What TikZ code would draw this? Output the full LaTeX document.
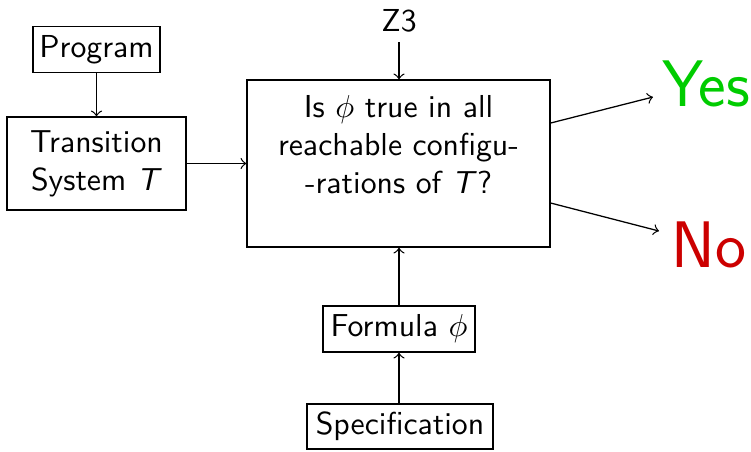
\documentclass[tikz,border=0pt]{standalone}
\usetikzlibrary{calc}
\begin{document}
\begin{tikzpicture}[x=0.315pt,y=-0.315pt,
  font=\sffamily,
  box/.style={draw,inner sep=0pt,align=center},
  flow/.style={->,line width=0.4pt},
  lbl/.style={inner sep=0pt,align=center}]
\useasboundingbox (0,0) rectangle (751,451);
\definecolor{yesgreen}{RGB}{0,204,0}
\definecolor{nored}{RGB}{204,0,0}

% input boxes
\node[box,minimum width=127*0.315pt,minimum height=46*0.315pt] (prog) at (96.5,49.5) {Program};
\node[box,minimum width=179*0.315pt,minimum height=93*0.315pt] (ts) at (96.5,163.5) {Transition\\System \textit{T}};

% central question
\node[box,minimum width=303*0.315pt,minimum height=167*0.315pt] (main) at (398.5,163.5) {};
\node[lbl] (question) at (398.5,145) {Is $\phi$ true in all\\reachable configu-\\-rations of \textit{T}?};

\node[lbl] (z3) at (399,21) {Z3};

% specification chain
\node[box,minimum width=152*0.315pt,minimum height=46*0.315pt] (formula) at (399,329) {Formula $\phi$};
\node[box,minimum width=186*0.315pt,minimum height=45*0.315pt] (spec) at (400,426.5) {Specification};

% answers
\node[lbl,font=\sffamily\huge,text=yesgreen] (yes) at (706,84) {Yes};
\node[lbl,font=\sffamily\huge,text=nored] (no) at (709,245) {No};
\coordinate (yesend) at (653,97);
\coordinate (noend) at (659,231);

% connectors
\draw[flow] (prog) -- (ts);
\draw[flow] (ts) -- (main);
\draw[flow] ($(z3.south)+(0,9)$) -- (z3 |- main.north);
\draw[flow] (formula) -- (formula |- main.south);
\draw[flow] (formula |- spec.north) -- (formula.south);
\draw[flow] ($(main.east)+(0,-40.5)$) -- (yesend);
\draw[flow] ($(main.east)+(0,39.5)$) -- (noend);
\end{tikzpicture}
\end{document}
